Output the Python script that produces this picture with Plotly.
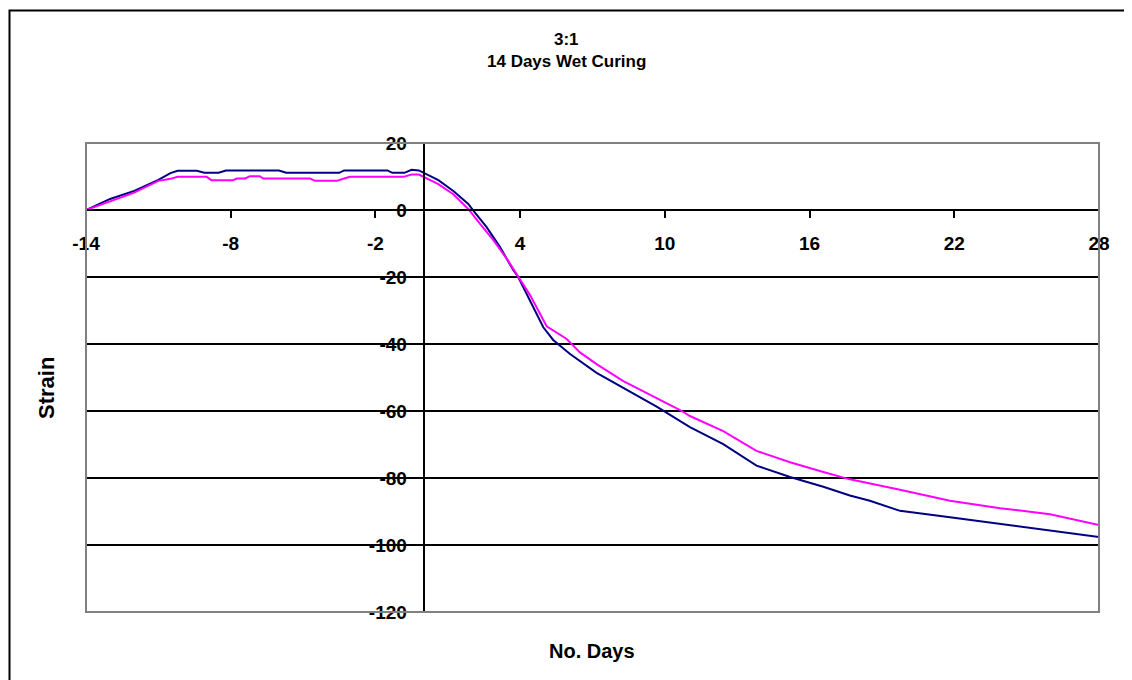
import plotly.graph_objects as go

# Navy series (day, strain)
days_navy = [-14, -13, -12, -11, -10.5, -10.2, -9.4, -9.1, -8.5, -8.2, -6, -5.7, -3.5, -3.3,
             -1.5, -1.3, -0.8, -0.5, -0.2, 0, 0.61, 1.23, 1.85, 2.06, 2.61, 3.16, 3.72, 3.92,
             4.41, 4.96, 5.37, 6.07, 7.17, 8.28, 9.66, 11.04, 12.42, 13.8, 15.19, 16.57,
             17.67, 18.5, 19.75, 21.82, 23.9, 25.97, 28]
strain_navy = [0, 3.3, 5.7, 9.0, 11.0, 11.7, 11.7, 11.1, 11.1, 11.8, 11.8, 11.1, 11.1, 11.8,
               11.8, 11.1, 11.1, 12.0, 11.8, 11.1, 8.9, 5.7, 1.8, -0.2, -5.1, -11.0, -18.0, -20.0,
               -27.0, -35.0, -38.8, -43.0, -48.6, -53.2, -58.7, -64.8, -69.9, -76.3, -79.7, -82.6,
               -85.2, -86.8, -89.8, -91.7, -93.7, -95.6, -97.6]

# Magenta series (day, strain)
days_magenta = [-14, -13, -12, -11, -10.5, -10.2, -9.0, -8.8, -7.9, -7.75, -7.4, -7.2, -6.8,
                -6.65, -4.71, -4.5, -3.6, -3.3, -3.05, -0.84, -0.5, -0.2, 0, 0.61, 1.23, 1.85,
                2.33, 2.89, 3.44, 3.92, 4.41, 5.1, 5.37, 5.93, 6.48, 7.17, 8.28, 9.66, 10.63,
                11.04, 12.42, 13.8, 15.19, 16.57, 17.67, 19.75, 21.82, 23.9, 25.97, 28]
strain_magenta = [0, 2.5, 5.2, 8.7, 9.3, 9.9, 9.9, 8.9, 8.9, 9.4, 9.4, 10.1, 10.1,
                  9.4, 9.4, 8.7, 8.7, 9.4, 9.9, 9.9, 10.6, 10.6, 9.85, 7.7, 4.7, 0.3,
                  -4.1, -9.0, -14.5, -20.0, -25.4, -34.7, -36.0, -38.5, -42.5, -46.0, -51.1, -56.2, -59.7,
                  -61.5, -66.0, -71.9, -75.3, -78.2, -80.4, -83.5, -86.8, -89.0, -90.8, -94.0]

x_tickvals = [-14, -8, -2, 4, 10, 16, 22, 28]
x_ticktext = ["-14", "-8", "-2", "4", "10", "16", "22", "28"]
y_tickvals = [20, 0, -20, -40, -60, -80, -100, -120]
y_ticktext = ["20", "0", "-20", "-40", "-60", "-80", "-100", "-120"]

title_lines = ["3:1", "14 Days Wet Curing"]
x_title = "No. Days"
y_title = "Strain"

FONT = "Arial, Liberation Sans, sans-serif"

fig = go.Figure()
fig.add_trace(go.Scatter(x=days_navy, y=strain_navy, mode="lines",
                         line=dict(color="#000080", width=2), showlegend=False))
fig.add_trace(go.Scatter(x=days_magenta, y=strain_magenta, mode="lines",
                         line=dict(color="#FF00FF", width=2), showlegend=False))

XMIN, XMAX, YMIN, YMAX = -14, 28, -120, 20

# target plot-area pixels (page has an 8px body offset)
OFF = 8
PL, PR, PT, PB = 86 - OFF, 1099 - OFF, 143 - OFF, 612 - OFF
PW, PH = PR - PL, PB - PT


def px(xp):
    return (xp - OFF - PL) / PW


def py(yp):
    return (PB - (yp - OFF)) / PH


fig.update_layout(
    width=1132, height=680, autosize=False,
    margin=dict(l=PL, r=1132 - PR, t=PT, b=680 - PB),
    paper_bgcolor="white", plot_bgcolor="white",
    font=dict(family=FONT, color="black"),
    xaxis=dict(range=[XMIN, XMAX], tickvals=x_tickvals, ticktext=x_ticktext,
               showgrid=False, zeroline=False,
               showline=True, linecolor="black", linewidth=2,
               anchor="free", position=(0 - YMIN) / (YMAX - YMIN),
               ticks="outside", ticklen=7, tickwidth=1.5, tickcolor="black",
               ticklabelstandoff=9,
               tickfont=dict(size=19, family=FONT, weight="bold", color="black")),
    yaxis=dict(range=[YMIN, YMAX], tickvals=y_tickvals, ticktext=y_ticktext,
               showgrid=True, gridcolor="black", gridwidth=2,
               zeroline=False, showline=True, linecolor="black", linewidth=2,
               anchor="free", position=(0 - XMIN) / (XMAX - XMIN),
               ticks="outside", ticklen=6, tickwidth=1.5, tickcolor="black",
               ticklabelstandoff=6,
               tickfont=dict(size=19, family=FONT, weight="bold", color="black")),
)

# plot area frame (gray) and outer chart border (black)
fig.add_shape(type="rect", xref="paper", yref="paper", x0=0, x1=1, y0=0, y1=1,
              line=dict(color="#808080", width=2), layer="above")
fig.add_shape(type="rect", xref="paper", yref="paper", x0=px(9.5), x1=px(1200), y0=py(760), y1=py(10.5),
              line=dict(color="black", width=2), layer="above")

fig.add_annotation(text=title_lines[0], xref="paper", yref="paper", x=px(566),
                   y=py(40), showarrow=False, xanchor="center", yanchor="middle",
                   font=dict(size=17, family=FONT, weight="bold", color="black"))
fig.add_annotation(text=title_lines[1], xref="paper", yref="paper", x=px(566),
                   y=py(61), showarrow=False, xanchor="center", yanchor="middle",
                   font=dict(size=17, family=FONT, weight="bold", color="black"))
fig.add_annotation(text=y_title, xref="paper", yref="paper", x=px(46),
                   y=py(388), showarrow=False, textangle=-90,
                   xanchor="center", yanchor="middle",
                   font=dict(size=22, family=FONT, weight="bold", color="black"))
fig.add_annotation(text=x_title, xref="paper", yref="paper", x=px(592),
                   y=py(651), showarrow=False, xanchor="center", yanchor="middle",
                   font=dict(size=20, family=FONT, weight="bold", color="black"))

fig.write_html("out.html")
